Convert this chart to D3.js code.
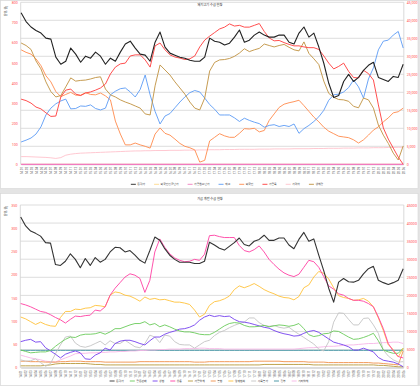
<!DOCTYPE html>
<html><head><meta charset="utf-8">
<script src="https://cdn.jsdelivr.net/npm/d3@7"></script>
<style>body{margin:0;background:#fff}svg{display:block;font-family:"Noto Sans CJK KR","Noto Sans",sans-serif}</style>
</head><body><svg id="c" width="420" height="386"></svg>
<script>
const categories = ["14.01","14.02","14.03","14.04","14.05","14.06","14.07","14.08","14.09","14.10","14.11","14.12",
"15.01","15.02","15.03","15.04","15.05","15.06","15.07","15.08","15.09","15.10","15.11","15.12",
"16.01","16.02","16.03","16.04","16.05","16.06","16.07","16.08","16.09","16.10","16.11","16.12",
"17.01","17.02","17.03","17.04","17.05","17.06","17.07","17.08","17.09","17.10","17.11","17.12",
"18.01","18.02","18.03","18.04","18.05","18.06","18.07","18.08","18.09","18.10","18.11","18.12",
"19.01","19.02","19.03","19.04","19.05","19.06","19.07","19.08","19.09","19.10","19.11","19.12",
"20.01","20.02","20.03","20.04","20.05","20.06"];

// ---- top chart ----
const topTitle = "돼지고기 수급 현황";
const topLeftTicks = [0,100,200,300,400,500,600,700,800];
const topRightTicks = [0,5000,10000,15000,20000,25000,30000,35000,40000,45000];
const topPrice = [748,705,678,661,648,623,618,529,494,509,574,544,504,534,524,554,534,494,524,509,554,594,608,574,544,539,509,603,653,579,549,539,529,524,514,509,509,529,623,608,603,589,598,628,663,603,613,638,653,638,628,628,638,638,603,594,648,678,628,648,579,499,400,330,340,409,444,409,429,464,489,504,429,419,409,434,429,494];
const topImportAvg = [0,0,0,0,0,0,0,0,0,0,0,0,0,0,0,0,0,0,0,0,0,0,0,0,0,0,0,0,0,0,0,0,0,0,0,0,0,0,0,0,0,0,0,0,0,0,0,0,0,0,0,0,0,0,0,0,0,0,0,0,0,0,0,0,0,0,0,0,0,0,0,0,0,0,0,0,0,0];
const topRawPrice = [0,0,0,0,0,0,0,0,0,0,0,0,0,0,0,0,0,0,0,0,0,0,0,0,0,0,0,0,0,0,0,0,0,0,0,0,0,0,0,0,0,0,0,0,0,0,0,0,0,0,0,0,0,0,0,0,0,0,0,0,0,0,0,0,0,0,0,0,0,0,0,0,0,0,0,0,0,0];
const topStock = [6200,6700,7300,8400,10400,13700,15600,16800,17600,18100,15400,15500,16200,16100,16500,15500,15100,15600,19300,20300,21000,21200,20100,18700,20800,24800,19300,14700,11200,13400,14100,15700,17300,18700,19900,20500,20100,18400,16600,15300,13700,13700,13700,12900,11900,12800,12200,11700,11300,10300,10800,11000,10500,10800,10500,11200,8600,9900,10800,11900,13200,15000,17800,19300,19500,20100,21300,23400,21500,18400,23700,26800,31800,34200,34500,35900,36900,32300];
const topImport = [31800,31100,30600,29300,27400,24600,22900,20200,18800,19400,20000,19200,19200,19900,19400,19300,19800,19000,17900,12000,8400,5400,5400,5900,5400,5000,4500,8400,10100,8600,8100,7000,5800,5000,4600,4000,600,1100,6500,7500,8500,7900,7500,7500,8600,9900,9800,10000,9000,9400,12200,14000,15800,16700,17100,17400,17800,16300,14700,13100,11800,10300,9200,8500,7800,7600,7400,6800,5900,6800,8100,9500,10400,11800,12900,14300,14600,15600];
const topProcessed = [18100,17700,17000,15900,15400,14300,13300,13400,18700,20600,20900,19500,19100,19800,20100,20600,21200,22300,25100,27000,27900,28100,30100,30400,30400,29000,27000,32900,33700,31800,30400,29800,29500,29100,29300,30100,32600,34500,35600,36600,37600,38100,39000,38400,38600,38100,38100,38600,39100,36900,35100,34300,34400,33800,33300,32900,32900,32600,32400,32400,31900,30100,28100,26500,27200,28100,25800,24100,24000,26100,25200,23400,16500,10100,7000,4500,2000,0];
const topGap = [38,38,37,36,35,34,32,29,33,45,50,53,55,56,57,58,59,60,61,62,63,64,65,66,66,67,67,68,68,68,69,69,69,70,70,70,71,71,72,72,72,73,73,73,74,74,74,74,75,75,75,76,76,76,76,77,77,77,77,78,78,78,79,79,79,80,80,80,81,81,81,82,82,82,83,83,84,84];
const topLive = [33700,33000,31900,28700,26500,22900,20200,18700,19100,21500,24000,23100,23300,23400,23700,24100,24300,20900,19300,18700,17900,17300,16800,16200,15600,14000,13700,21800,27600,26200,24800,22900,21200,19500,17300,15600,15100,18400,25900,28300,29000,29100,29400,30000,30900,32100,31300,31800,32200,33400,33000,32600,33000,33300,32500,31800,31500,34000,30800,29300,27700,23100,19700,18600,18000,17900,17500,16100,15700,18400,17900,15600,10900,8100,5800,3100,1200,5100];

// ---- bottom chart ----
const botTitle = "가금 계란 수급 현황";
const botLeftTicks = [0,50,100,150,200,250,300,350];
const botRightTicks = [0,5000,10000,15000,20000,25000,30000,35000,40000,45000];
const bPrice = [324,305,294,289,283,269,268,222,220,229,245,233,215,235,220,237,227,233,249,259,258,249,252,242,231,225,252,281,274,256,242,233,227,227,227,224,224,229,270,264,257,253,261,269,279,265,262,272,276,285,274,274,279,279,264,256,276,291,272,277,242,209,171,141,184,192,185,184,188,202,213,218,188,183,179,183,188,213];
const bCoop = [38,35,32,33,34,34,37,46,54,61,66,65,70,72,72,73,76,72,77,84,84,88,92,95,95,99,92,95,88,92,88,83,79,77,77,75,72,71,71,76,83,90,95,97,96,91,88,88,89,91,88,90,92,91,89,91,95,84,71,67,69,73,74,79,78,72,66,61,62,65,69,74,58,38,34,31,31,42];
const bConsumer = [56,59,61,55,56,43,36,29,21,29,33,36,32,19,18,27,32,42,38,52,57,59,59,56,52,49,58,66,66,72,76,79,83,84,87,92,102,109,113,110,112,110,111,104,99,98,96,93,90,87,85,80,76,73,71,68,69,74,78,80,76,69,62,55,52,49,45,38,38,42,38,34,22,16,14,12,8,2];
const bRetail = [138,135,131,126,121,119,114,108,103,96,104,111,110,112,113,124,122,131,156,171,183,195,202,199,192,162,188,249,277,259,245,236,231,228,229,233,231,244,284,285,282,280,280,280,263,252,249,254,262,249,233,222,212,204,199,196,201,216,231,228,216,196,176,169,159,156,149,145,145,143,138,131,109,84,52,36,24,21];
const bProcessor = [4,4,4,4,4,5,6,8,9,9,9,9,9,9,8,7,7,6,6,6,6,6,6,6,6,6,6,6,6,6,6,6,6,6,6,6,6,6,6,6,6,6,6,6,6,6,6,6,6,7,7,7,7,7,7,7,7,7,7,6,6,6,6,6,6,6,6,6,6,6,6,6,5,5,4,3,2,2];
const bNH = [14,14,13,13,13,12,12,12,13,13,14,14,14,13,13,13,13,12,12,12,12,12,12,12,13,13,13,13,13,13,13,13,13,13,13,12,12,12,13,13,13,13,13,13,13,13,13,14,14,14,14,14,14,13,13,13,13,13,12,12,12,12,11,11,11,11,11,11,11,11,11,10,10,9,8,7,6,36];
const bAssoc = [109,105,99,93,98,93,90,89,108,121,121,126,125,128,129,134,133,131,156,163,161,156,154,149,143,152,147,149,146,147,144,141,141,139,136,124,109,115,134,142,144,148,154,168,176,172,176,181,175,168,163,159,154,151,150,146,153,172,178,195,207,203,191,172,155,151,149,145,146,149,143,131,107,80,49,39,23,42];
const bFarm = [17,14,15,19,11,3,9,30,49,66,68,53,46,44,47,52,57,49,58,52,52,59,52,45,43,52,70,66,54,70,68,56,50,49,49,42,49,56,59,69,76,80,86,91,95,98,107,107,97,91,89,91,87,85,87,79,72,65,58,51,40,36,56,98,118,117,104,92,92,106,107,92,74,38,25,17,12,13];
const bGov = [4800,4800,4800,4800,4800,4800,4800,4800,4800,4800,4800,4800,4800,4800,4800,4800,4800,4800,4800,4800,4800,4800,4800,4800,4800,4800,4800,4800,4800,4800,4800,4800,4800,4800,4800,4800,4800,4800,4800,4800,4800,4800,4800,4800,4800,4800,4800,4800,4800,4800,4800,4800,4800,4800,4800,4800,4800,4800,4800,4800,4800,4800,4800,4800,4800,4800,4800,4800,4800,4800,4800,4800,4800,4800,4800,4800,4800,4800];
const bEtc = [27,24,21,19,17,14,13,12,17,21,25,30,31,31,32,32,33,33,34,34,35,35,36,36,37,37,38,38,39,39,40,40,40,41,41,41,42,42,41,41,41,40,40,40,40,40,40,40,40,40,40,40,40,40,40,40,41,42,43,43,44,45,46,46,47,48,49,49,50,51,52,52,53,54,54,55,55,52];

const topSeries = [
  {name:"등락가", data:topPrice, axis:"L", color:"#222222", w:1.1, z:8},
  {name:"외국인평균단가", data:topImportAvg, axis:"L", color:"#ffd98a", w:0.9, z:0},
  {name:"가공원료단가", data:topRawPrice, axis:"L", color:"#f27ac0", w:1.2, z:1},
  {name:"재고", data:topStock, axis:"R", color:"#5b9bf5", w:0.9, z:4},
  {name:"외국인", data:topImport, axis:"R", color:"#ff8a4c", w:0.9, z:3},
  {name:"가공육", data:topProcessed, axis:"R", color:"#ff3b3b", w:0.9, z:6},
  {name:"가격차", data:topGap, axis:"L", color:"#ffc2cc", w:0.9, z:2},
  {name:"생체량", data:topLive, axis:"R", color:"#bf913e", w:0.9, z:5}
];
const botSeries = [
  {name:"등락가", data:bPrice, axis:"L", color:"#333333", w:1.1, z:9},
  {name:"공동판매", data:bCoop, axis:"L", color:"#6acb5a", w:0.9, z:6},
  {name:"생협", data:bConsumer, axis:"L", color:"#7440ee", w:0.9, z:5},
  {name:"유통", data:bRetail, axis:"L", color:"#ff3fa3", w:0.9, z:8},
  {name:"가공업체", data:bProcessor, axis:"L", color:"#b89a3a", w:0.9, z:2},
  {name:"농협", data:bNH, axis:"L", color:"#f0904a", w:0.9, z:3},
  {name:"양계협회", data:bAssoc, axis:"L", color:"#ffc23a", w:0.9, z:7},
  {name:"사육농가", data:bFarm, axis:"L", color:"#c4c4c4", w:0.9, z:4},
  {name:"정부", data:bGov, axis:"R", color:"#3a8e9e", w:0.9, z:0},
  {name:"기타업체", data:bEtc, axis:"L", color:"#f7b6e6", w:0.9, z:1}
];

const svg = d3.select("#c");
svg.append("rect").attr("width",420).attr("height",386).attr("fill","#e4e4e4");

function drawChart(cfg){
  const g = svg.append("g");
  g.append("rect").attr("x",cfg.frame[0]).attr("y",cfg.frame[1]).attr("width",cfg.frame[2]).attr("height",cfg.frame[3])
    .attr("fill","#fff").attr("stroke","#d6d6d6").attr("stroke-width",0.6);
  const x = d3.scalePoint().domain(categories).range([cfg.x0+0.4, cfg.x1-0.6]);
  const yL = d3.scaleLinear().domain([0, d3.max(cfg.leftTicks)]).range([cfg.yb, cfg.yt]);
  const yR = d3.scaleLinear().domain([0, d3.max(cfg.rightTicks)]).range([cfg.yb, cfg.yt]);

  g.append("g").selectAll("line").data(cfg.rightTicks).join("line")
    .attr("x1",cfg.x0).attr("x2",cfg.x1).attr("y1",d=>yR(d)).attr("y2",d=>yR(d))
    .attr("stroke","#d4d4d4").attr("stroke-width",0.8);
  g.append("line").attr("x1",cfg.x0).attr("x2",cfg.x0).attr("y1",cfg.yt).attr("y2",cfg.yb).attr("stroke","#cfcfcf").attr("stroke-width",0.8);
  g.append("line").attr("x1",cfg.x1).attr("x2",cfg.x1).attr("y1",cfg.yt).attr("y2",cfg.yb).attr("stroke","#cfcfcf").attr("stroke-width",0.8);

  const la = g.append("g").attr("transform",`translate(${cfg.x0},0)`)
    .call(d3.axisLeft(yL).tickValues(cfg.leftTicks).tickSize(0).tickPadding(3).tickFormat(cfg.leftFmt));
  la.select(".domain").remove();
  la.selectAll("text").attr("font-size",3.6).attr("fill","#ff5050").attr("font-family","Roboto, sans-serif");
  const ra = g.append("g").attr("transform",`translate(${cfg.x1},0)`)
    .call(d3.axisRight(yR).tickValues(cfg.rightTicks).tickSize(0).tickPadding(3).tickFormat(cfg.rightFmt));
  ra.select(".domain").remove();
  ra.selectAll("text").attr("font-size",3.6).attr("fill","#ff5050").attr("font-family","Roboto, sans-serif");

  const xa = g.append("g").attr("transform",`translate(0,${cfg.yb})`)
    .call(d3.axisBottom(x).tickSize(0).tickPadding(0));
  xa.select(".domain").attr("stroke","#bbbbbb").attr("stroke-width",0.6);
  xa.selectAll("text").attr("font-size",3).attr("fill","#555").attr("font-family","Roboto, sans-serif")
    .attr("transform","rotate(-90)").attr("text-anchor","end").attr("x",-2.5).attr("y",0).attr("dy","0.35em");

  const sorted = cfg.series.slice().sort((a,b)=>a.z-b.z);
  sorted.forEach(s=>{
    const sc = s.axis==="L" ? yL : yR;
    const line = d3.line().defined(d=>d!=null).x((d,i)=>x(categories[i])).y(d=>sc(d));
    g.append("path").datum(s.data).attr("d",line).attr("fill","none")
      .attr("stroke",s.color).attr("stroke-width",s.w).attr("stroke-linejoin","round");
  });

  g.append("text").attr("x",cfg.titleX).attr("y",cfg.titleY).attr("text-anchor","middle")
    .attr("font-size",3.2).attr("fill","#333").text(cfg.title);
  g.append("text").attr("transform",`translate(${cfg.ytX},${cfg.ytY}) rotate(-90)`).attr("text-anchor","middle")
    .attr("font-size",3).attr("fill","#333").text("단위(원)");

  const lg = g.append("g");
  const items = cfg.series.map(s=>{
    const it = lg.append("g");
    it.append("line").attr("x1",0).attr("x2",5).attr("y1",0).attr("y2",0).attr("stroke",s.color).attr("stroke-width",0.9);
    const t = it.append("text").attr("x",6.5).attr("y",0).attr("dy","0.35em").attr("font-size",2.8).attr("fill","#333").text(s.name);
    return {it, w: 6.5 + t.node().getComputedTextLength()};
  });
  const total = d3.sum(items, d=>d.w) + cfg.legendGap*(items.length-1);
  let cx = cfg.legendCx - total/2;
  items.forEach(d=>{ d.it.attr("transform",`translate(${cx},${cfg.legendY})`); cx += d.w + cfg.legendGap; });
}

drawChart({
  frame:[0.5,0.5,417.5,188], x0:20.7, x1:403.8, yt:2.3, yb:164.3,
  leftTicks:topLeftTicks, rightTicks:topRightTicks,
  leftFmt:d3.format("d"), rightFmt:d3.format(","),
  series:topSeries, title:topTitle, titleX:210, titleY:5.5, ytX:6.5, ytY:11,
  legendCx:227, legendY:184.3, legendGap:9
});
drawChart({
  frame:[0.5,193.5,417.5,192], x0:20.3, x1:403.8, yt:205, yb:367.7,
  leftTicks:botLeftTicks, rightTicks:botRightTicks,
  leftFmt:d3.format("d"), rightFmt:d3.format("d"),
  series:botSeries, title:botTitle, titleX:210, titleY:199.5, ytX:6.5, ytY:211,
  legendCx:209, legendY:381, legendGap:6
});
</script>
</body></html>
